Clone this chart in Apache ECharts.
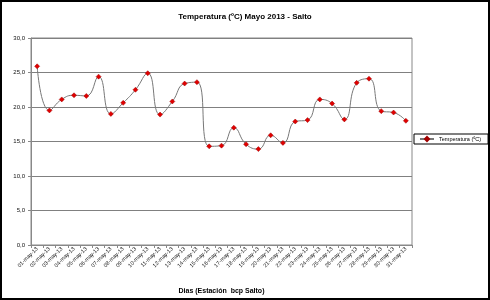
<!DOCTYPE html>
<html>
<head>
<meta charset="utf-8">
<script src="https://cdn.jsdelivr.net/npm/echarts@6/dist/echarts.min.js"></script>
<style>
  html, body { margin: 0; padding: 0; background: #fff; }
  #main { width: 490px; height: 300px; }
</style>
</head>
<body>
<div id="main"></div>
<script>
var dias = [];
for (var d = 1; d <= 31; d++) {
    dias.push((d < 10 ? '0' + d : '' + d) + '-may-13');
}
var temperatura = [
    25.9, 19.5, 21.1, 21.7, 21.6, 24.4, 19.0, 20.6, 22.5, 24.9,
    18.9, 20.8, 23.4, 23.6, 14.3, 14.4, 17.0, 14.6, 13.9, 15.9,
    14.8, 17.9, 18.1, 21.1, 20.5, 18.2, 23.5, 24.1, 19.4, 19.2,
    18.0
];
var yTicks = { min: 0, max: 30, interval: 5 };

var myChart = echarts.init(document.getElementById('main'));
myChart.setOption({
    animation: false,
    textStyle: { fontFamily: 'Liberation Sans, Arial, sans-serif' },
    title: {
        text: 'Temperatura (ºC) Mayo 2013 - Salto',
        left: 240,
        textAlign: 'center',
        top: 8,
        textStyle: { fontSize: 8, fontWeight: 'bold', color: '#000' }
    },
    graphic: [{
        type: 'rect',
        shape: { x: 1, y: 1, width: 488, height: 298 },
        style: { fill: 'none', stroke: '#000', lineWidth: 2 },
        silent: true
    }],
    legend: {
        left: 414,
        top: 134,
        orient: 'vertical',
        borderColor: '#000',
        borderWidth: 1,
        borderRadius: 0,
        padding: [2, 7, 2, 5],
        itemWidth: 14,
        itemHeight: 5,
        itemGap: 0,
        textStyle: { fontSize: 5.5, color: '#000' },
        data: ['Temperatura (ºC)']
    },
    grid: {
        left: 31,
        right: 78,
        top: 38,
        bottom: 55,
        show: true,
        borderColor: '#888',
        borderWidth: 1
    },
    xAxis: {
        type: 'category',
        data: dias,
        boundaryGap: true,
        name: 'Dias (Estación  bcp Salto)',
        nameLocation: 'middle',
        nameGap: 43,
        nameTextStyle: { fontSize: 7, fontWeight: 'bold', color: '#000' },
        axisLine: { lineStyle: { color: '#888' } },
        axisTick: { show: true, alignWithLabel: false, length: 3, lineStyle: { color: '#888' } },
        axisLabel: { rotate: 45, interval: 0, fontSize: 5.5, color: '#111', margin: 3 }
    },
    yAxis: {
        type: 'value',
        min: yTicks.min,
        max: yTicks.max,
        interval: yTicks.interval,
        axisLine: { show: true, lineStyle: { color: '#888' } },
        axisTick: { show: true, length: 3, lineStyle: { color: '#888' } },
        axisLabel: {
            fontSize: 6,
            color: '#111',
            margin: 6,
            formatter: function (v) { return v.toFixed(1).replace('.', ','); }
        },
        splitLine: { show: true, lineStyle: { color: '#808080', width: 1 } }
    },
    series: [{
        name: 'Temperatura (ºC)',
        type: 'line',
        data: temperatura,
        smooth: 0.5,
        symbol: 'diamond',
        symbolSize: 5,
        lineStyle: { color: '#777', width: 1 },
        itemStyle: { color: '#e00000', borderColor: '#a00000', borderWidth: 0.5 }
    }]
});
</script>
</body>
</html>
